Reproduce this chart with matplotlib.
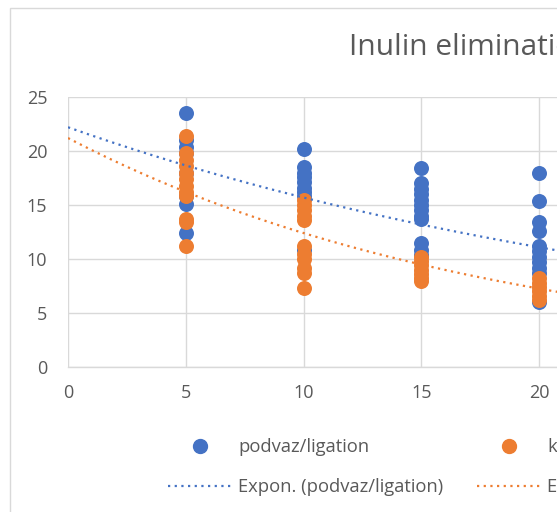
import matplotlib
matplotlib.use("Agg")
import matplotlib.pyplot as plt
from matplotlib.lines import Line2D
import numpy as np

# ---- data ----
blue_x5 = [23.5, 21.0, 20.4, 19.8, 18.0, 15.8, 15.1, 12.4]
blue_x10 = [20.2, 18.5, 18.0, 17.6, 17.1, 16.6, 16.2, 15.8, 10.8]
blue_x15 = [18.4, 17.0, 16.5, 16.0, 15.5, 15.0, 14.5, 14.0, 13.7, 11.5, 10.8, 10.4]
blue_x20 = [18.0, 15.4, 13.4, 12.6, 11.2, 10.7, 10.2, 9.7, 9.2, 8.7, 6.0]

orange_x5 = [21.4, 19.8, 19.2, 18.6, 18.0, 17.4, 16.8, 16.2, 15.8, 13.7, 13.4, 11.2]
orange_x10 = [15.5, 15.0, 14.5, 14.0, 13.6, 11.2, 10.5, 10.0, 9.2, 8.7, 7.3]
orange_x15 = [10.2, 9.8, 9.4, 9.0, 8.6, 8.2, 8.0]
orange_x20 = [8.2, 7.8, 7.4, 7.0, 6.6, 6.2]

times = [5, 10, 15, 20]
blue_name = "podvaz/ligation"
orange_name = "kontrola/control"

# exponential trendline coefficients y = a*exp(b*x)
blue_trend_a, blue_trend_b = 22.2, -0.0347
orange_trend_a, orange_trend_b = 21.2, -0.0536

x_ticks = [0, 5, 10, 15, 20]
y_ticks = [0, 5, 10, 15, 20, 25]
title = "Inulin elimination"

BLUE = "#4472C4"
ORANGE = "#ED7D31"
GRID = "#D9D9D9"
TXT = "#595959"

plt.rcParams['font.family'] = ['Open Sans', 'DejaVu Sans']

W, H = 557, 512
fig = plt.figure(figsize=(W / 100, H / 100), dpi=100)

# chart border
border = plt.Rectangle((9.5 / W, -0.1), 2.0, 1.1 - 7.5 / H, transform=fig.transFigure,
                       fill=False, edgecolor=GRID, linewidth=1.0)
fig.patches.append(border)

px_per_unit = 23.55
xmax = 35
ax = fig.add_axes([68 / W, (H - 367) / H, xmax * px_per_unit / W, 270 / H])
ax.set_xlim(0, xmax)
ax.set_ylim(0, 25)

blue_groups = [blue_x5, blue_x10, blue_x15, blue_x20]
orange_groups = [orange_x5, orange_x10, orange_x15, orange_x20]
bx = np.concatenate([[t] * len(g) for t, g in zip(times, blue_groups)])
by = np.concatenate(blue_groups)
ox = np.concatenate([[t] * len(g) for t, g in zip(times, orange_groups)])
oy = np.concatenate(orange_groups)

ms = 15 * 0.72
ax.scatter(bx, by, s=ms ** 2, color=BLUE, linewidths=0, zorder=3)
ax.scatter(ox, oy, s=ms ** 2, color=ORANGE, linewidths=0, zorder=4)

xt = np.linspace(0, xmax, 300)
ax.plot(xt, blue_trend_a * np.exp(blue_trend_b * xt), color=BLUE, lw=1.6,
        linestyle=(0, (1, 2)), zorder=5)
ax.plot(xt, orange_trend_a * np.exp(orange_trend_b * xt), color=ORANGE, lw=1.6,
        linestyle=(0, (1, 2)), zorder=5)

ax.set_xticks(x_ticks)
ax.set_yticks(y_ticks)
ax.grid(True, color=GRID, linewidth=1.0, zorder=0)
# vertical gridlines beyond the visible ticks (cut off by the figure edge)
for gx in [25, 30]:
    ax.axvline(gx, color=GRID, linewidth=1.0, zorder=0)
ax.set_axisbelow(True)
for s in ['top', 'right', 'left']:
    ax.spines[s].set_visible(False)
ax.spines['bottom'].set_color(GRID)
ax.spines['bottom'].set_linewidth(1.0)
ax.tick_params(axis='both', length=0, labelsize=13, labelcolor=TXT)
ax.tick_params(axis='x', pad=12.5)
ax.tick_params(axis='y', pad=15)

fig.text(349 / W, 1 - 55 / H, title, fontsize=21.5, color=TXT, ha='left', va='baseline')

leg_kw = dict(frameon=False, fontsize=13.2, labelcolor=TXT, handlelength=3.5,
              handletextpad=0.32, labelspacing=1.2, borderpad=0, borderaxespad=0,
              loc='upper left')
h1 = [Line2D([], [], marker='o', ls='none', color=BLUE, markersize=10),
      Line2D([], [], color=BLUE, lw=1.6, ls=(0, (1, 2)))]
h2 = [Line2D([], [], marker='o', ls='none', color=ORANGE, markersize=10),
      Line2D([], [], color=ORANGE, lw=1.6, ls=(0, (1, 2)))]
l1 = fig.legend(h1, [blue_name, "Expon. (" + blue_name + ")"],
                bbox_to_anchor=(168 / W, 1 - 438 / H), **leg_kw)
l2 = fig.legend(h2, [orange_name, "Expon. (" + orange_name + ")"],
                bbox_to_anchor=(477 / W, 1 - 438 / H), **leg_kw)

fig.savefig("out.png", dpi=100)
